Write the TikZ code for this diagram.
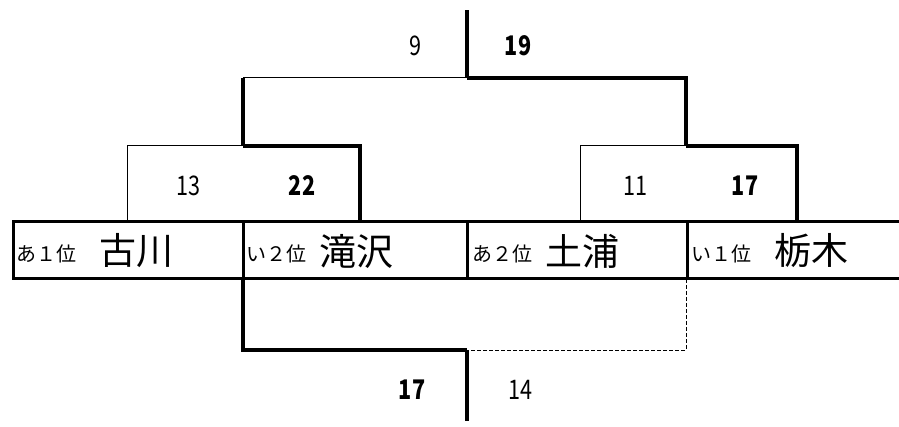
\documentclass[tikz,border=0pt]{standalone}
\usepackage{fontspec}
\setmainfont{Noto Sans CJK JP}
\newfontfamily\numfont[FakeStretch=0.8]{Noto Sans CJK JP}
\usetikzlibrary{positioning}

\tikzset{
  win/.style={line width=4pt},
  lose/.style={line width=1pt},
  undecided/.style={line width=1pt, dash pattern=on 4pt off 2pt},
  cellline/.style={line width=3pt},
  rank/.style={anchor=west, inner sep=0pt, font=\fontsize{20}{22}\selectfont},
  team/.style={inner sep=0pt, font=\fontsize{37}{40}\selectfont},
  score/.style={inner sep=0pt, font=\numfont\fontsize{27}{29}\selectfont},
  topscore/.style={score, font=\numfont\fontsize{27}{29}\selectfont\bfseries}
}

\begin{document}
\begin{tikzpicture}[x=1pt, y=-1pt]
    \useasboundingbox (0,0) rectangle (899,427);

    % Team row
    \draw[cellline] (899,222) -- (13,222) -- (13,279) -- (899,279);
    \foreach \x in {243,467,687} {
        \draw[cellline] (\x,222) -- (\x,279);
    }
    \node[rank] (r1) at (16,254) {あ１位};
    \node[team] (furukawa) at (136,251) {古川};
    \node[rank] (r2) at (246,254) {い２位};
    \node[team] (takizawa) at (356,251) {滝沢};
    \node[rank] (r3) at (472,254) {あ２位};
    \node[team] (tsuchiura) at (582,251) {土浦};
    \node[rank] (r4) at (691,254) {い１位};
    \node[team] (tochigi) at (811,251) {栃木};

    % Bracket points
    \coordinate (furukawaTop) at (127,222);
    \coordinate (takizawaTop) at (360,222);
    \coordinate (tsuchiuraTop) at (580,222);
    \coordinate (tochigiTop) at (797,222);
    \coordinate (semiA) at (243,146);
    \coordinate (semiB) at (686,146);
    \coordinate (final) at (467,78);
    \coordinate (champ) at (467,10);

    % First round
    \draw[lose] (furukawaTop) |- (semiA);
    \draw[win] (takizawaTop) |- (semiA);
    \draw[lose] (tsuchiuraTop) |- (semiB);
    \draw[win] (tochigiTop) |- (semiB);
    \node[score] (s13) at (188,186) {13};
    \node[topscore] (s22) at (302,186) {22};
    \node[score] (s11) at (635,186) {11};
    \node[topscore] (s17a) at (745,186) {17};

    % Final
    \draw[win] (semiA) -- (semiA |- final);
    \draw[lose] (semiA |- final) -- (final);
    \draw[win] (semiB) |- (final);
    \draw[win] (final) -- (champ);
    \node[score] (s9) at (415,46) {9};
    \node[topscore] (s19) at (518,46) {19};

    % Lower match
    \coordinate (lowA) at (243,279);
    \coordinate (lowB) at (686,279);
    \coordinate (lowMid) at (467,350);
    \coordinate (lowEnd) at (467,421);
    \draw[win] (lowA) |- (lowMid);
    \draw[undecided] (lowB) |- (lowMid);
    \draw[win] (lowMid) -- (lowEnd);
    \node[topscore] (s17b) at (412,390) {17};
    \node[score] (s14) at (520,390) {14};

\end{tikzpicture}
\end{document}
